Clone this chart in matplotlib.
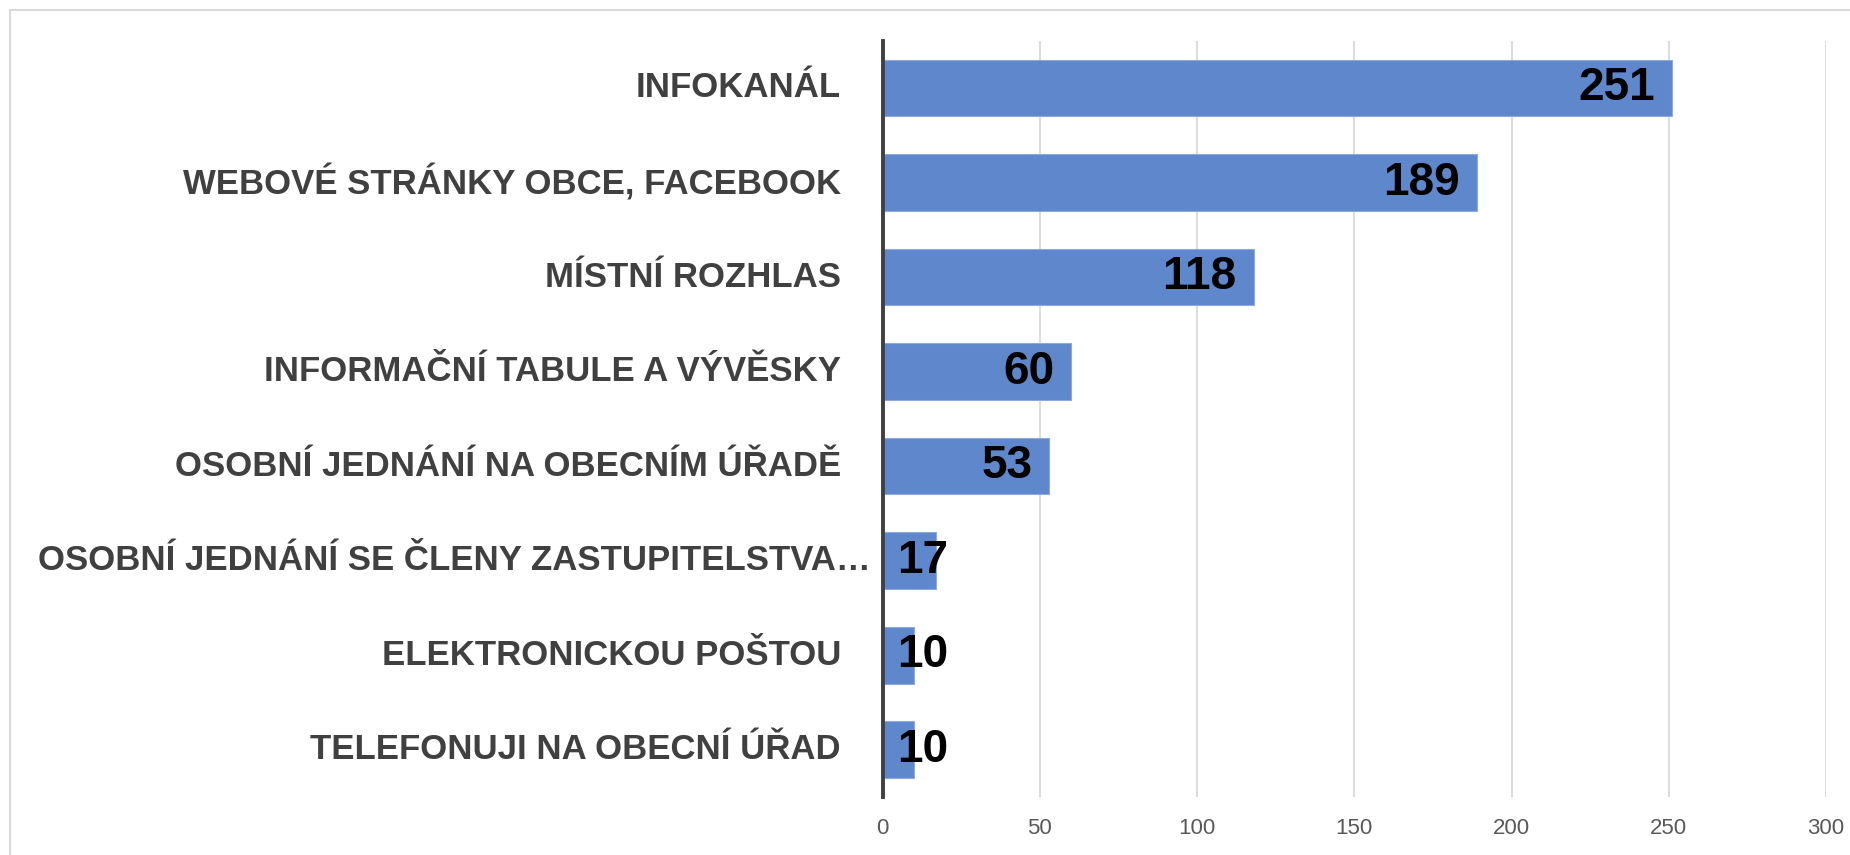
import matplotlib
matplotlib.use("Agg")
import matplotlib.pyplot as plt
from matplotlib import font_manager
from matplotlib.patches import Rectangle
from matplotlib.transforms import blended_transform_factory

categories = [
    "INFOKANÁL",
    "WEBOVÉ STRÁNKY OBCE, FACEBOOK",
    "MÍSTNÍ ROZHLAS",
    "INFORMAČNÍ TABULE A VÝVĚSKY",
    "OSOBNÍ JEDNÁNÍ NA OBECNÍM ÚŘADĚ",
    "OSOBNÍ JEDNÁNÍ SE ČLENY ZASTUPITELSTVA…",
    "ELEKTRONICKOU POŠTOU",
    "TELEFONUJI NA OBECNÍ ÚŘAD",
]
values = [251, 189, 118, 60, 53, 17, 10, 10]
xticks = [0, 50, 100, 150, 200, 250, 300]

names = {f.name for f in font_manager.fontManager.ttflist}
narrow = "Liberation Sans Narrow" if "Liberation Sans Narrow" in names else "Liberation Sans"

W, H, DPI = 1850, 855, 100
fig = plt.figure(figsize=(W / DPI, H / DPI), dpi=DPI)
fig.patches.append(Rectangle((10 / W, -0.01), 1.02, (H - 10) / H + 0.01,
                             transform=fig.transFigure, fill=False,
                             edgecolor="#d9d9d9", lw=1.5))

ax = fig.add_axes([882.7 / W, 58 / H, (1826 - 882.7) / W, (797 - 40.7) / H])

y = list(range(len(categories)))
ax.barh(y, values, height=0.6, color="#5f87cc", edgecolor="#8eaadb", lw=0.8, zorder=2)
ax.set_ylim(len(categories) - 0.5, -0.5)
ax.set_xlim(0, 300)

ax.set_xticks(xticks)
ax.set_xticklabels([str(t) for t in xticks], fontsize=16, color="#595959", family=narrow)
ax.tick_params(axis="x", length=0, pad=15)
ax.set_yticks([])
ax.grid(axis="x", color="#d9d9d9", lw=1.3, zorder=0)
for s in ["top", "right", "bottom"]:
    ax.spines[s].set_visible(False)
ax.spines["left"].set_color("#404040")
ax.spines["left"].set_linewidth(2.8)
ax.spines["left"].set_zorder(3)

# category labels, right aligned left of the axis
tr = blended_transform_factory(fig.transFigure, ax.transData)
for i, c in enumerate(categories):
    xr = 841 if not c.endswith("…") else 871
    ax.text(xr / W, i, c, transform=tr, ha="right", va="center",
            fontsize=25, fontweight="bold", color="#404040", family=narrow)

# value labels: inside end, but not left of the axis
fig.canvas.draw()
r = fig.canvas.get_renderer()
px_per_unit = ax.transData.transform((1, 0))[0] - ax.transData.transform((0, 0))[0]
for i, v in enumerate(values):
    t = ax.text(0, i, str(v), ha="right", va="center", fontsize=33,
                fontweight="bold", color="black", family=narrow, zorder=4)
    w = t.get_window_extent(r).width / px_per_unit
    t.set_x(max(v - 17 / px_per_unit, 14 / px_per_unit + w))

fig.savefig("out.png", dpi=DPI)
